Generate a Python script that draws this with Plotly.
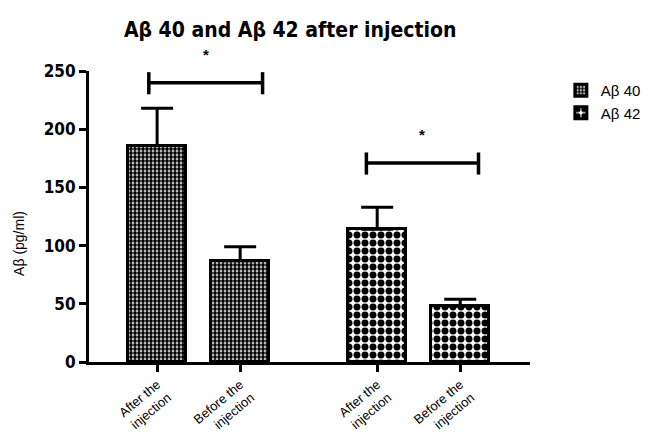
import plotly.graph_objects as go

# Data
groups = ["Aβ 40", "Aβ 42"]
conditions = ["After the<br>injection", "Before the<br>injection"]
ab40_mean = [186, 87]
ab40_err = [32, 12]
ab42_mean = [114, 48]
ab42_err = [19, 6]
x_ab40 = [0, 1]
x_ab42 = [2.65, 3.65]
tick_positions = x_ab40 + x_ab42
tick_labels = conditions + conditions
y_ticks = [0, 50, 100, 150, 200, 250]
y_tick_labels = ["<b>0</b>", "<b>50</b>", "<b>100</b>", "<b>150</b>", "<b>200</b>", "<b>250</b>"]
sig_labels = ["<b>*</b>", "<b>*</b>"]
sig_levels = [240, 171]
sig_spans = [(-0.1, 1.27), (2.52, 3.87)]

FONT_NARROW = "DejaVu Sans Condensed, Liberation Sans Narrow, Liberation Sans, Arial, sans-serif"
FONT_REG = "Liberation Sans, Arial, sans-serif"

fig = go.Figure()
fig.add_trace(go.Bar(
    x=x_ab40, y=ab40_mean, name=groups[0], width=0.7,
    marker=dict(color="white", line=dict(color="black", width=3),
                pattern=dict(shape=".", fgcolor="black", bgcolor="white", fgopacity=1,
                             size=4, solidity=0.7)),
    error_y=dict(type="data", array=ab40_err, arrayminus=[0, 0], symmetric=False,
                 color="black", thickness=3, width=16),
))
fig.add_trace(go.Bar(
    x=x_ab42, y=ab42_mean, name=groups[1], width=0.7,
    marker=dict(color="white", line=dict(color="black", width=3),
                pattern=dict(shape=".", fgcolor="black", bgcolor="white", fgopacity=1,
                             size=8, solidity=0.6)),
    error_y=dict(type="data", array=ab42_err, arrayminus=[0, 0], symmetric=False,
                 color="black", thickness=3, width=16),
))

# significance brackets
for (x0, x1), lvl, lab in zip(sig_spans, sig_levels, sig_labels):
    fig.add_shape(type="line", x0=x0, x1=x1, y0=lvl, y1=lvl, xref="x", yref="y",
                  line=dict(color="black", width=3.5))
    for xx in (x0, x1):
        fig.add_shape(type="line", x0=xx, x1=xx, y0=lvl - 10, y1=lvl + 9, xref="x", yref="y",
                      line=dict(color="black", width=3.5))
    fig.add_annotation(x=(x0 + x1) / 2, y=lvl, yshift=28, xref="x", yref="y", text=lab,
                       showarrow=False, font=dict(size=15, color="black", family=FONT_REG))

# y-axis title as annotation (lower than centered)
fig.add_annotation(x=-0.18, y=102, xref="paper", yref="y", text="Aβ (pg/ml)",
                   textangle=-90, showarrow=False,
                   font=dict(size=14, color="black", family=FONT_REG))

fig.update_layout(
    width=667, height=442,
    margin=dict(l=81, r=145, t=63, b=88),
    plot_bgcolor="white", paper_bgcolor="white",
    title=dict(text="<b>Aβ 40 and Aβ 42 after injection</b>", x=0.423, xanchor="center",
               y=0.95, yanchor="middle",
               font=dict(size=21, color="black", family=FONT_NARROW)),
    showlegend=True,
    legend=dict(x=1.07, y=0.99, xanchor="left", yanchor="top",
                font=dict(size=15, color="black", family=FONT_REG),
                bgcolor="rgba(0,0,0,0)", tracegroupgap=0),
    bargap=0,
)
fig.update_xaxes(
    range=[-0.82, 4.49], tickmode="array", tickvals=tick_positions, ticktext=tick_labels,
    tickangle=-40, ticks="outside", ticklen=7, tickwidth=2.5, tickcolor="black",
    showline=True, linecolor="black", linewidth=3, showgrid=False, zeroline=False,
    automargin=False,
    tickfont=dict(size=13, color="black", family=FONT_REG),
)
fig.update_yaxes(
    range=[0, 250], tickmode="array", tickvals=y_ticks, ticktext=y_tick_labels,
    ticks="outside", ticklen=7, tickwidth=2.5, tickcolor="black",
    showline=True, linecolor="black", linewidth=3, showgrid=False, zeroline=False,
    automargin=False,
    tickfont=dict(size=17, color="black", family=FONT_NARROW),
)

fig.write_html("out.html")
